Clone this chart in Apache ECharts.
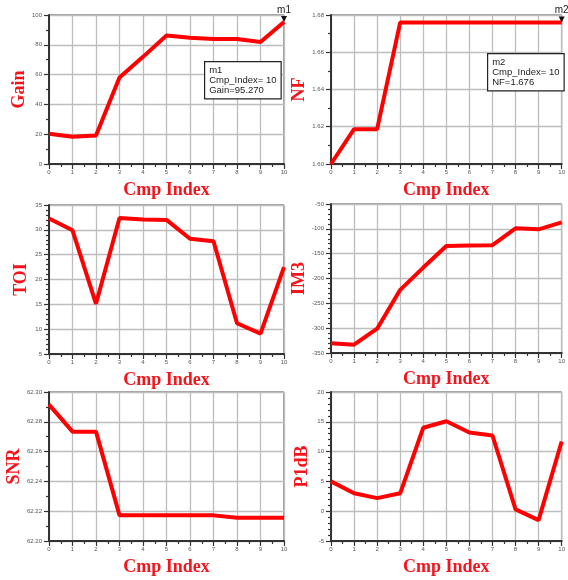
<!DOCTYPE html>
<html>
<head>
<meta charset="utf-8">
<script src="https://cdn.jsdelivr.net/npm/echarts@6/dist/echarts.min.js"></script>
<style>html,body{margin:0;padding:0;background:#fff}#c{width:568px;height:580px}</style>
</head>
<body>
<div id="c"></div>
<script>
var cmpIndex = [0,1,2,3,4,5,6,7,8,9,10];
var gain = [20.3,18.3,19.2,58.0,71.9,86.2,84.8,83.9,83.9,81.9,95.27];
var nf   = [1.600,1.6187,1.6187,1.676,1.676,1.676,1.676,1.676,1.676,1.676,1.676];
var toi  = [32.3,29.9,15.1,32.4,32.1,32.0,28.2,27.7,11.2,9.1,22.5];
var im3  = [-330.6,-333.3,-301,-222.8,-178,-134.4,-133.7,-133,-99,-101,-87];
var snr  = [62.2915,62.2734,62.2734,62.2172,62.2172,62.2172,62.2172,62.2172,62.2156,62.2156,62.2156];
var p1db = [5.0,3.0,2.2,3.0,14.0,15.1,13.2,12.7,0.3,-1.5,11.7];

var panels = [
  {name:'Gain', data:gain, min:0, max:100, interval:20, minor:2, dec:0, box:{x:204,y:61}, marker:'m1'},
  {name:'NF', data:nf, min:1.60, max:1.68, interval:0.02, minor:2, dec:2, box:{x:487,y:53}, marker:'m2'},
  {name:'TOI', data:toi, min:5, max:35, interval:5, minor:5, dec:0},
  {name:'IM3', data:im3, min:-350, max:-50, interval:50, minor:5, dec:0},
  {name:'SNR', data:snr, min:62.20, max:62.30, interval:0.02, minor:2, dec:2},
  {name:'P1dB', data:p1db, min:-5, max:20, interval:5, minor:5, dec:0}
];
var grids = [
  {left:49, top:15, width:235, height:149},
  {left:331, top:15, width:234, height:149},
  {left:49, top:205, width:235, height:149},
  {left:331, top:204, width:234, height:149},
  {left:49, top:392, width:235, height:149},
  {left:331, top:392, width:234, height:149}
];
var red = '#ff0000';
var tickFont = {fontSize:6, color:'#555', fontFamily:'Liberation Sans'};
var nameFont = {fontSize:18, fontWeight:'bold', color:'#f5141c', fontFamily:'Liberation Serif'};

var option = {animation:false, grid:[], xAxis:[], yAxis:[], series:[], graphic:[]};
panels.forEach(function(p,i){
  var g = grids[i];
  option.grid.push({left:g.left, top:g.top, width:g.width, height:g.height, show:true, borderColor:'#444', borderWidth:1, backgroundColor:'#fff'});
  option.xAxis.push({
    type:'value', gridIndex:i, min:0, max:10, interval:1,
    name:'Cmp Index', nameLocation:'middle', nameGap:17, nameTextStyle:nameFont,
    axisLine:{onZero:false, lineStyle:{color:'#333', width:2}},
    axisTick:{show:true, length:5, lineStyle:{color:'#333', width:1.2}},
    minorTick:{show:true, splitNumber:2, length:3, lineStyle:{color:'#333', width:1.2}},
    axisLabel:Object.assign({margin:5}, tickFont),
    splitLine:{show:true, lineStyle:{color:'#bdbdbd', width:1.3}}
  });
  option.yAxis.push({
    type:'value', gridIndex:i, min:p.min, max:p.max, interval:p.interval,
    name:p.name, nameLocation:'middle', nameGap:i%2===0?19:20, nameRotate:90, nameTextStyle:nameFont,
    axisLine:{onZero:false, lineStyle:{color:'#333', width:2}},
    axisTick:{show:true, length:5, lineStyle:{color:'#333', width:1.2}},
    minorTick:{show:true, splitNumber:p.minor, length:3, lineStyle:{color:'#333', width:1.2}},
    axisLabel:Object.assign({margin:7, formatter:(function(d){return function(v){return v.toFixed(d);};})(p.dec)}, tickFont),
    splitLine:{show:true, lineStyle:{color:'#bdbdbd', width:1.3}}
  });
  var s = {
    type:'line', xAxisIndex:i, yAxisIndex:i,
    data:cmpIndex.map(function(x,k){return [x, p.data[k]];}),
    symbol:'none', lineStyle:{color:red, width:4}, clip:false, z:3
  };
  if (p.marker) {
    var last = p.data[p.data.length-1];
    s.markPoint = {
      symbol:'triangle', symbolRotate:180, symbolSize:[6,6], symbolOffset:[0,-3],
      itemStyle:{color:'#111'},
      label:{show:true, position:'top', distance:1, color:'#222', fontSize:10, fontFamily:'Liberation Sans', formatter:p.marker},
      data:[{coord:[10,last]}]
    };
    option.graphic.push({
      type:'text', left:p.box.x, top:p.box.y, z:10,
      style:{
        text:p.marker+'\nCmp_Index= '+cmpIndex[cmpIndex.length-1]+'\n'+p.name+'='+last.toFixed(3),
        font:'9.5px "Liberation Sans"', fill:'#222', lineHeight:10,
        backgroundColor:'#fff', borderColor:'#222', borderWidth:1.2, padding:[3,4,3,4]
      }
    });
  }
  option.series.push(s);
});
var chart = echarts.init(document.getElementById('c'), null, {renderer:'canvas'});
chart.setOption(option);
</script>
</body>
</html>
